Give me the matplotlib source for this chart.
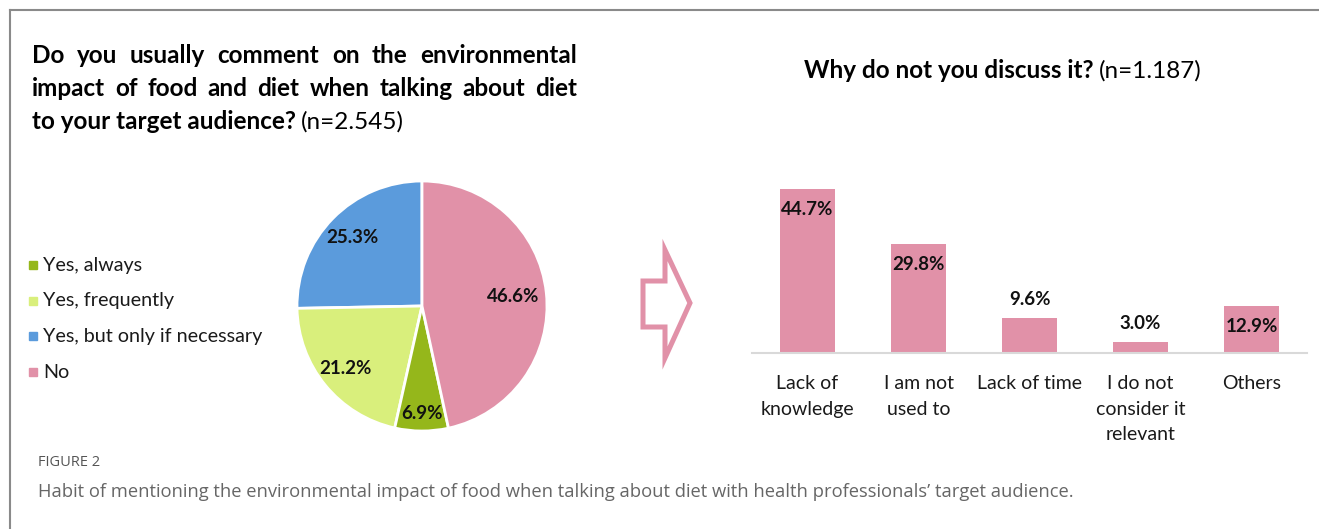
import numpy as np
import matplotlib.pyplot as plt
from matplotlib.patches import Polygon, Rectangle
from matplotlib.lines import Line2D

W, H = 1319, 529
FONT = ["Lato", "DejaVu Sans"]

# pie: costumbre de comentar el impacto ambiental
pie_labels = ["Yes, always", "Yes, frequently", "Yes, but only if necessary", "No"]
pie_values = [6.9, 21.2, 25.3, 46.6]
pie_colors = ["#95b71b", "#d9ef7c", "#5b9bdc", "#e191a8"]

# barras: motivos para no comentarlo
bar_labels = ["Lack of\nknowledge", "I am not\nused to", "Lack of time",
              "I do not\nconsider it\nrelevant", "Others"]
bar_values = [44.7, 29.8, 9.6, 3.0, 12.9]
bar_color = "#e191a8"


def fx(x):
    return x / W


def fy(y):
    return 1 - y / H


def box(x0, y0, x1, y1):
    # pixeles (origen arriba-izquierda) -> fracciones de figura
    return [fx(x0), fy(y1), fx(x1) - fx(x0), fy(y0) - fy(y1)]


fig = plt.figure(figsize=(W / 100, H / 100), dpi=100)
renderer = fig.canvas.get_renderer()

# marco gris
fig.add_artist(Line2D([fx(10), 1], [fy(10), fy(10)], color="#8a8a8a", lw=1.5))
fig.add_artist(Line2D([fx(10), fx(10)], [fy(10), 0], color="#8a8a8a", lw=1.5))


def justificar(palabras, x0, x1, y, size):
    arts = [fig.text(0, fy(y), p, fontsize=size, fontweight="bold", family=FONT,
                     va="baseline") for p in palabras]
    anchos = [a.get_window_extent(renderer).width for a in arts]
    hueco = ((x1 - x0) - sum(anchos)) / (len(palabras) - 1)
    x = x0
    for a, w in zip(arts, anchos):
        a.set_x(fx(x))
        x += w + hueco


TSIZE = 17.5
justificar("Do you usually comment on the environmental".split(), 32, 577, 63, TSIZE)
justificar("impact of food and diet when talking about diet".split(), 32, 577, 96, TSIZE)
t = fig.text(fx(32), fy(129), "to your target audience?", fontsize=TSIZE,
             fontweight="bold", family=FONT, va="baseline")
w = t.get_window_extent(renderer).width
fig.text(fx(32 + w + 5), fy(129), "(n=2.545)", fontsize=TSIZE, family=FONT, va="baseline")

# titulo de las barras, centrado
t1 = fig.text(0, fy(78), "Why do not you discuss it?", fontsize=TSIZE,
              fontweight="bold", family=FONT, va="baseline")
t2 = fig.text(0, fy(78), "(n=1.187)", fontsize=TSIZE, family=FONT, va="baseline")
w1 = t1.get_window_extent(renderer).width
w2 = t2.get_window_extent(renderer).width
x0 = 1003 - (w1 + 5 + w2) / 2
t1.set_x(fx(x0))
t2.set_x(fx(x0 + w1 + 5))

# pie
ax = fig.add_axes(box(297, 181, 547, 431))
orden = [2, 1, 0, 3]
vals = [pie_values[i] for i in orden]
cols = [pie_colors[i] for i in orden]
wedges, _ = ax.pie(vals, colors=cols, startangle=90, counterclock=True,
                   wedgeprops=dict(edgecolor="white", linewidth=2))
ax.set_xlim(-1, 1)
ax.set_ylim(-1, 1)
dist = [0.78, 0.79, 0.86, 0.73]
for wg, v, d in zip(wedges, vals, dist):
    ang = np.radians((wg.theta1 + wg.theta2) / 2)
    ax.text(d * np.cos(ang), d * np.sin(ang), f"{v:.1f}%", ha="center", va="center",
            fontsize=13.5, fontweight="bold", family=FONT, color="#111111")

# leyenda
for i, (lab, c) in enumerate(zip(pie_labels, pie_colors)):
    yc = 265 + i * 35.7
    fig.add_artist(Rectangle((fx(29), fy(yc + 4)), fx(8), 8 / H, color=c,
                             transform=fig.transFigure))
    fig.text(fx(43), fy(yc), lab, fontsize=14.2, family=FONT, va="center", color="#1a1a1a")

# flecha hueca
flecha = np.array([(643, 281), (665, 281), (665, 250), (690, 303),
                   (665, 358), (665, 327), (643, 327)], dtype=float)
pts = [(fx(x), fy(y)) for x, y in flecha]
fig.add_artist(Polygon(pts, closed=True, fill=False, edgecolor=bar_color, lw=3.6,
                       joinstyle="miter", transform=fig.transFigure))

# barras
bx = fig.add_axes(box(752, 169.5, 1307, 353))
x = np.arange(len(bar_values))
bx.bar(x, bar_values, width=0.5, color=bar_color)
bx.set_xlim(-0.5, len(bar_values) - 0.5)
bx.set_ylim(0, 50)
for s in ["top", "right", "left"]:
    bx.spines[s].set_visible(False)
bx.spines["bottom"].set_color("#d9d9d9")
bx.spines["bottom"].set_linewidth(1.5)
bx.set_yticks([])
bx.set_xticks(x)
bx.set_xticklabels(bar_labels, fontsize=14, family=FONT, color="#1a1a1a",
                   linespacing=1.6)
bx.tick_params(axis="x", length=0, pad=16)
for xi, v in zip(x, bar_values):
    if v > 10:
        bx.text(xi, v - 5.6, f"{v:.1f}%", ha="center", va="center",
                fontsize=13.5, fontweight="bold", family=FONT, color="#111111")
    else:
        bx.text(xi, v + 5.0, f"{v:.1f}%", ha="center", va="center",
                fontsize=13.5, fontweight="bold", family=FONT, color="#111111")

# pie de figura
fig.text(fx(38), fy(462), "FIGURE 2", fontsize=10.5, family="Open Sans",
         color="#555555", va="center")
fig.text(fx(38), fy(492),
         "Habit of mentioning the environmental impact of food when talking about diet "
         "with health professionals\u2019 target audience.",
         fontsize=13.2, family="Open Sans", color="#666666", va="center")

fig.savefig("out.png", dpi=100)
